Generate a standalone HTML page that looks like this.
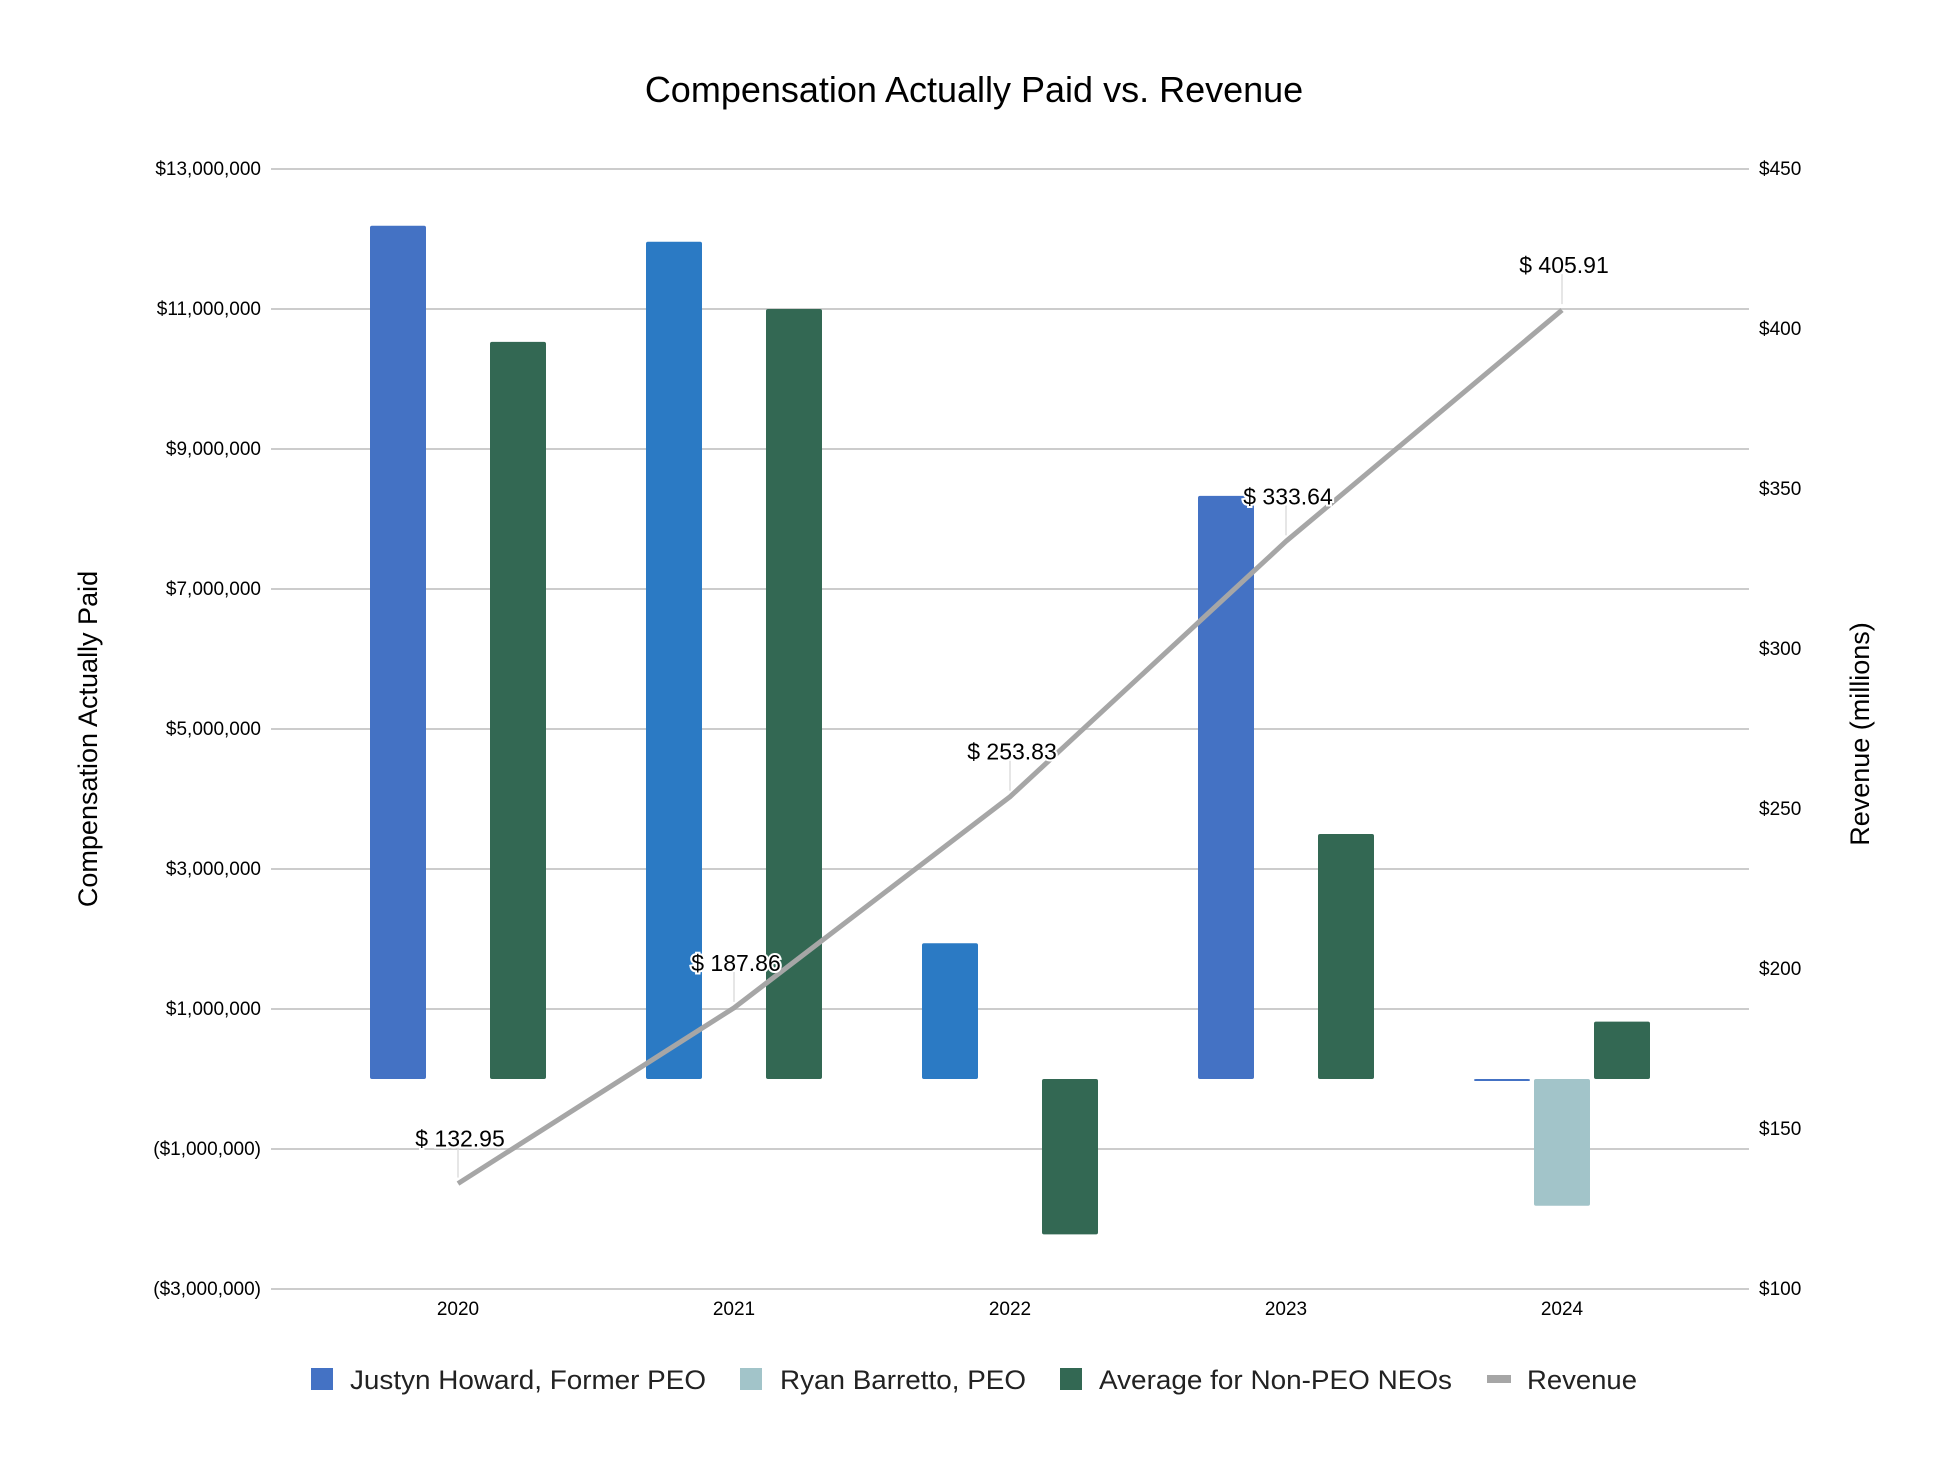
<!DOCTYPE html>
<html><head><meta charset="utf-8"><style>
html,body{margin:0;padding:0;background:#fff;}
svg{display:block;font-family:"Liberation Sans",Arial,sans-serif;}
</style></head><body>
<svg id="chart" width="1948" height="1468" viewBox="0 0 1948 1468">
<text x="974" y="102" text-anchor="middle" font-size="36" fill="#000">Compensation Actually Paid vs. Revenue</text>
<g id="grid"></g><g id="bars"></g><g id="line"></g><g id="labels"></g>
<text transform="translate(97,739) rotate(-90)" text-anchor="middle" font-size="27" fill="#000">Compensation Actually Paid</text>
<text transform="translate(1869,734) rotate(-90)" text-anchor="middle" font-size="27" fill="#000">Revenue (millions)</text>
<g font-size="27" fill="#222">
<rect x="311" y="1368" width="22" height="22" fill="#4472c4"/>
<text x="350" y="1389" textLength="356" lengthAdjust="spacingAndGlyphs">Justyn Howard, Former PEO</text>
<rect x="740" y="1368" width="22" height="22" fill="#a2c4c9"/>
<text x="780" y="1389" textLength="246" lengthAdjust="spacingAndGlyphs">Ryan Barretto, PEO</text>
<rect x="1060" y="1368" width="22" height="22" fill="#336853"/>
<text x="1099" y="1389" textLength="353" lengthAdjust="spacingAndGlyphs">Average for Non-PEO NEOs</text>
<rect x="1487" y="1375" width="24" height="8" fill="#a6a6a6"/>
<text x="1527" y="1389" textLength="110" lengthAdjust="spacingAndGlyphs">Revenue</text>
</g>
</svg>
<script>
const categories = ["2020","2021","2022","2023","2024"];
const justyn = [12190000, 11960000, 1940000, 8330000, -20000];
const ryan = [null, null, null, null, -1810000];
const average = [10530000, 11000000, -2220000, 3500000, 820000];
const revenue = [132.95, 187.86, 253.83, 333.64, 405.91];
const leftTicks = [13000000, 11000000, 9000000, 7000000, 5000000, 3000000, 1000000, -1000000, -3000000];
const rightTicks = [450, 400, 350, 300, 250, 200, 150, 100];

const NS = "http://www.w3.org/2000/svg";
const plotTop = 169, plotBottom = 1289, x0 = 271, x1 = 1749;
const yL = v => plotTop + (13000000 - v) / 16000000 * (plotBottom - plotTop);
const yR = v => plotTop + (450 - v) / 350 * (plotBottom - plotTop);
const xC = i => 458 + i * 276;
function mk(tag, attrs, parent) { const e = document.createElementNS(NS, tag); for (const k in attrs) e.setAttribute(k, attrs[k]); parent.appendChild(e); return e; }
function fmt(v) { const s = "$" + Math.abs(v).toLocaleString("en-US"); return v < 0 ? "(" + s + ")" : s; }

const grid = document.getElementById("grid");
leftTicks.forEach(v => {
  const l = mk("line", {x1: x0, x2: x1, y1: yL(v), y2: yL(v), stroke: "#cccccc", "stroke-width": 2}, grid);
  
  
  const t = mk("text", {x: 261, y: yL(v) + 6, "text-anchor": "end", "font-size": 19, fill: "#000"}, grid);
  t.textContent = fmt(v);
  
  
});
rightTicks.forEach(v => {
  const t = mk("text", {x: 1759, y: yR(v) + 6, "font-size": 19, fill: "#000"}, grid);
  t.textContent = "$" + v;
  
  
});
categories.forEach((c, i) => {
  const t = mk("text", {x: xC(i), y: 1315, "text-anchor": "middle", "font-size": 19, fill: "#000"}, grid);
  t.textContent = c;
  
  
});

const bars = document.getElementById("bars");
const justynColors = ["#4472c4", "#2b7ac4", "#2b7ac4", "#4472c4", "#4472c4"];
const series = [[justyn, -60, null, "bar-justyn"], [ryan, 0, "#a2c4c9", "bar-ryan"], [average, 60, "#336853", "bar-average"]];
series.forEach(([vals, off, col, name]) => {
  vals.forEach((v, i) => {
    if (v === null) return;
    const y0 = yL(0), y = yL(v);
    const h = Math.max(Math.abs(y - y0), 2);
    const r = mk("rect", {x: xC(i) + off - 28, y: Math.min(y, y0), width: 56, height: h, rx: 2, fill: col || justynColors[i]}, bars);
    
    
  });
});

const lineG = document.getElementById("line");
const pts = revenue.map((v, i) => xC(i) + "," + yR(v)).join(" ");
const pl = mk("polyline", {points: pts, fill: "none", stroke: "#a6a6a6", "stroke-width": 5, "stroke-linejoin": "round"}, lineG);



const labels = document.getElementById("labels");
revenue.forEach((v, i) => {
  const x = xC(i), y = yR(v);
  const l = mk("line", {x1: x, x2: x, y1: y - 6, y2: y - 36, stroke: "#dddddd", "stroke-width": 1.5}, labels);
  
  
  const t = mk("text", {x: x + 2, y: y - 37, "text-anchor": "middle", "font-size": 23, fill: "#000", stroke: "#fff", "stroke-width": 4, "paint-order": "stroke"}, labels);
  t.textContent = "$ " + v.toFixed(2);
  
  
});
</script>
</body></html>
